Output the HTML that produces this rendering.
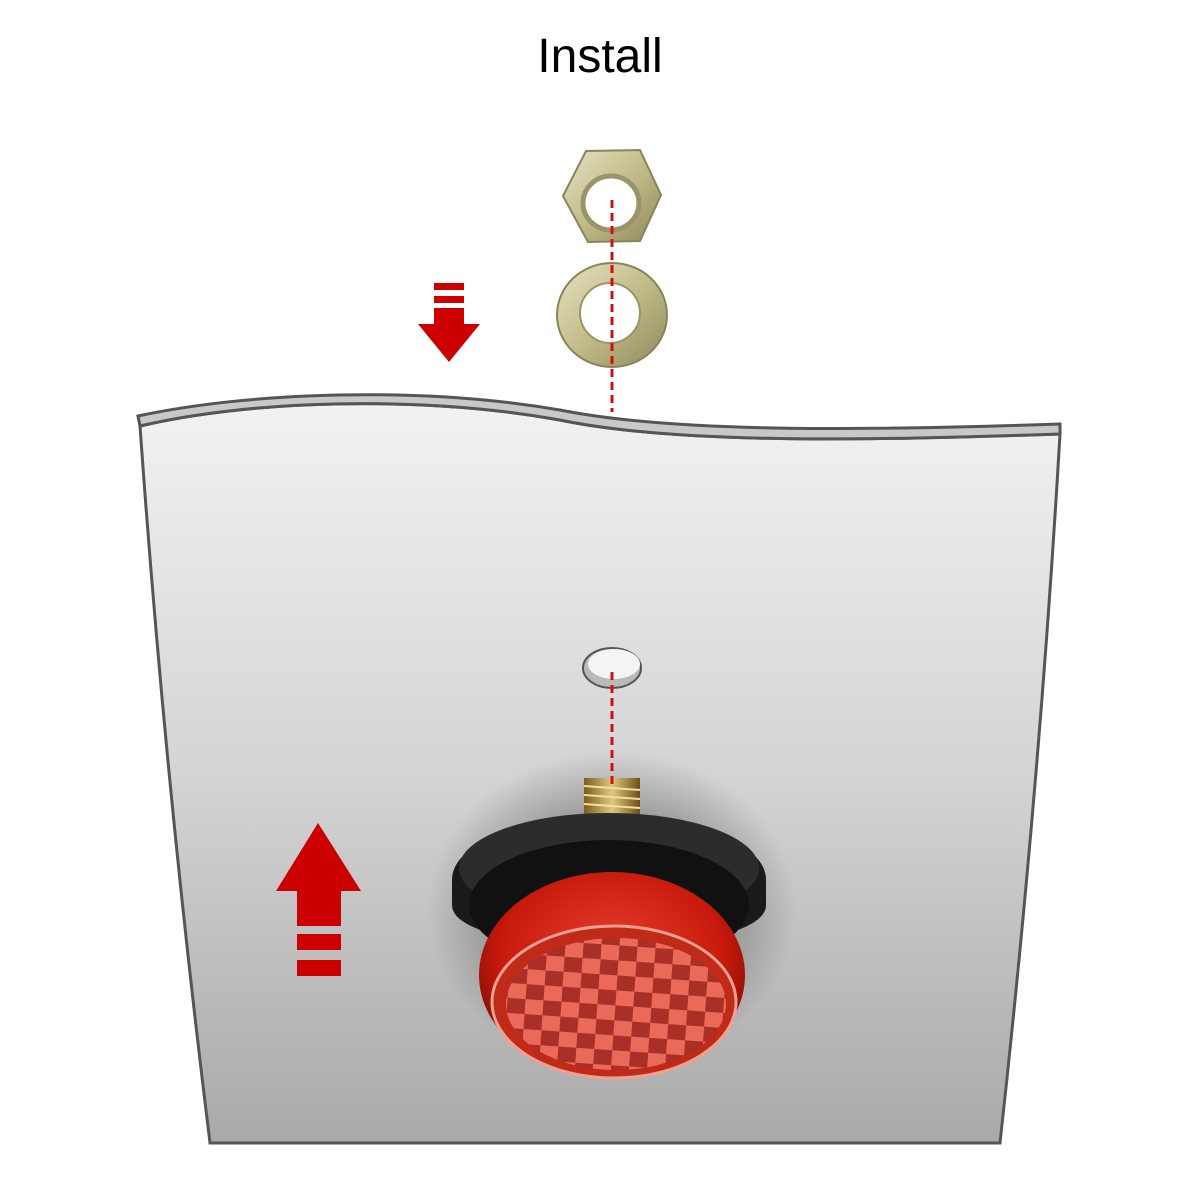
<!DOCTYPE html>
<html><head><meta charset="utf-8"><style>
html,body{margin:0;padding:0;background:#fff;width:1200px;height:1200px;overflow:hidden}
</style></head><body>
<svg width="1200" height="1200" viewBox="0 0 1200 1200" xmlns="http://www.w3.org/2000/svg">
<defs>
<linearGradient id="plate" x1="0" y1="0" x2="0" y2="1">
<stop offset="0" stop-color="#f2f2f2"/><stop offset="0.5" stop-color="#d4d4d4"/><stop offset="1" stop-color="#a9a9a9"/>
</linearGradient>
<radialGradient id="shadow" cx="0.5" cy="0.5" r="0.5">
<stop offset="0" stop-color="#000" stop-opacity="0.6"/><stop offset="0.6" stop-color="#000" stop-opacity="0.25"/><stop offset="1" stop-color="#000" stop-opacity="0"/>
</radialGradient>
<linearGradient id="brass" x1="0" y1="0" x2="1" y2="1">
<stop offset="0" stop-color="#e6e2c2"/><stop offset="0.5" stop-color="#c2bc8a"/><stop offset="1" stop-color="#8f885a"/>
</linearGradient>
<linearGradient id="thread" x1="0" y1="0" x2="1" y2="0">
<stop offset="0" stop-color="#7a5d20"/><stop offset="0.5" stop-color="#e0c880"/><stop offset="1" stop-color="#6a5018"/>
</linearGradient>
<radialGradient id="lens" cx="0.5" cy="0.4" r="0.6">
<stop offset="0" stop-color="#e84030"/><stop offset="0.7" stop-color="#c81a0c"/><stop offset="1" stop-color="#7a0a05"/>
</radialGradient>
<pattern id="check" width="36" height="30" patternUnits="userSpaceOnUse" patternTransform="rotate(4)">
<rect width="36" height="30" fill="#f07060"/>
<rect width="18" height="15" fill="#a83028"/><rect x="18" y="15" width="18" height="15" fill="#a83028"/>
</pattern>
</defs>
<text x="600" y="72" text-anchor="middle" font-family="Liberation Sans, sans-serif" font-size="48" fill="#000">Install</text>

<path d="M140,426 C250,400 420,395 560,420 C680,445 880,440 1060,434 Q1040,780 1000,1143 L210,1143 Q165,780 140,426 Z" fill="url(#plate)" stroke="#555" stroke-width="3"/>
<path d="M138,416 C250,392 420,386 560,410 C680,434 880,430 1060,424 L1060,434 C880,440 680,445 560,420 C420,395 250,400 140,426 Z" fill="#c8c8c8" stroke="#555" stroke-width="3"/>

<ellipse cx="612" cy="668" rx="29" ry="20" fill="#b9b9b9" stroke="#555" stroke-width="2"/>
<ellipse cx="614" cy="664" rx="26" ry="15" fill="#f4f4f4"/>

<ellipse cx="612" cy="910" rx="185" ry="160" fill="url(#shadow)"/>

<rect x="584" y="778" width="56" height="40" fill="url(#thread)"/>
<g stroke="#f0e0a0" stroke-width="2"><line x1="584" y1="786" x2="640" y2="790"/><line x1="584" y1="795" x2="640" y2="799"/><line x1="584" y1="804" x2="640" y2="808"/></g>

<path d="M452,880 C452,800 766,800 766,880 L766,905 C766,960 452,960 452,905 Z" fill="#1a1a1a"/>
<ellipse cx="609" cy="868" rx="150" ry="55" fill="#2c2c2c"/>
<ellipse cx="609" cy="905" rx="140" ry="65" fill="#111"/>
<ellipse cx="612" cy="975" rx="133" ry="103" fill="url(#lens)"/>
<ellipse cx="614" cy="1002" rx="122" ry="76" fill="#c02a18" stroke="#f0a090" stroke-width="3"/>
<ellipse cx="616" cy="1004" rx="110" ry="66" fill="url(#check)" opacity="0.9"/>

<polygon points="563,196 586,151 640,150 661,195 640,241 588,242" fill="url(#brass)" stroke="#8a845a" stroke-width="2"/>
<ellipse cx="611" cy="203" rx="28" ry="27" fill="#fff" stroke="#9a9468" stroke-width="5"/>
<ellipse cx="612" cy="315" rx="55" ry="52" fill="url(#brass)" stroke="#8a845a" stroke-width="2"/>
<ellipse cx="610" cy="313" rx="30" ry="30" fill="#fff" stroke="#9a9468" stroke-width="2"/>

<g stroke="#d01010" stroke-width="3" stroke-dasharray="8,5">
<line x1="612" y1="200" x2="612" y2="412"/>
<line x1="612" y1="672" x2="612" y2="785"/>
</g>

<g fill="#cc0000">
<rect x="434" y="283" width="30" height="7"/>
<rect x="434" y="296" width="30" height="7"/>
<rect x="434" y="308" width="30" height="17"/>
<polygon points="418,324 480,324 449,362"/>
</g>
<g fill="#cc0000">
<polygon points="318,823 361,891 276,891"/>
<rect x="297" y="890" width="44" height="36"/>
<rect x="297" y="934" width="44" height="16"/>
<rect x="297" y="960" width="44" height="16"/>
</g>
</svg>
</body></html>
